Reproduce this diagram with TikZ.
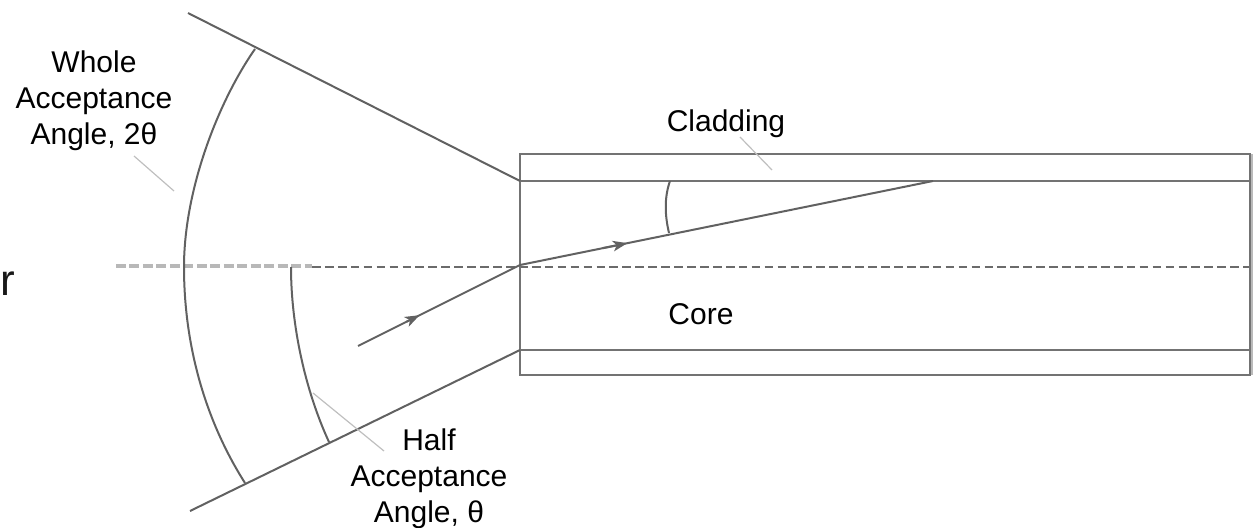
\documentclass[tikz,border=0pt]{standalone}
\usepackage{fontspec}
\setmainfont{Liberation Sans}
\usetikzlibrary{arrows.meta,calc}
\tikzset{
  x=0.75pt,y=-0.75pt,
  line/.style={draw=black!62,line width=1.5pt},
  boxline/.style={draw=black!55,line width=1.8pt},
  leader/.style={draw=black!25,line width=0.9pt},
  axisA/.style={draw=black!28,line width=2.4pt,dash pattern=on 7.5pt off 2.6pt},
  axisB/.style={draw=black!58,line width=1.2pt,dash pattern=on 6.5pt off 3.2pt},
  lab/.style={text=black,align=center,inner sep=0pt,font=\fontsize{22.5}{27}\selectfont},
  head/.style={-{Stealth[length=11pt,width=8pt,inset=3pt]}},
}
\begin{document}
\begin{tikzpicture}
\useasboundingbox (0,0) rectangle (1254,528);
% frame coordinates
\coordinate (tl) at (520,154);
\coordinate (tr) at (1250,154);
\coordinate (br) at (1250,375);
\coordinate (bl) at (520,375);
\coordinate (cl) at (520,181);
\coordinate (cr) at (1250,181);
\coordinate (dl) at (520,350);
\coordinate (dr) at (1250,350);
\coordinate (raya) at (358,346);
\coordinate (kink) at (520,265);
\coordinate (rayb) at (933,181);
\coordinate (uend) at (188,13);
\coordinate (lend) at (190,511);
\coordinate (axa) at (116,266);
\coordinate (axb) at (312,266);
\coordinate (axc) at (312,267);
\coordinate (axd) at (1250,267);
% right edge
\draw[draw=black!27,line width=2.4pt] (1251.5,154) -- (1251.5,375);
% axis
\draw[axisA] (axa) -- (axb);
\draw[axisB] (axc) -- (axd);
% fibre
\draw[boxline] (tl) -- (tr) -- (br) -- (bl) -- cycle;
\draw[boxline] (cl) -- (cr);
\draw[boxline] (dl) -- (dr);
% cone
\draw[line] (uend) -- (cl);
\draw[line] (lend) -- (dl);
% ray
\draw[line] (raya) -- (kink) -- (rayb);
\draw[line,head] ($(raya)!0.30!(kink)$) -- ($(raya)!0.38!(kink)$);
\draw[line,head] ($(kink)!0.2!(rayb)$) -- ($(kink)!0.26!(rayb)$);
% arcs
\draw[line] (255,49) .. controls (218,102) and (184,190) .. (184,267) .. controls (184,345) and (205,420) .. (245,483);
\draw[line] (291,267) .. controls (291,325) and (305,390) .. (329,442);
\draw[line] (670,181) .. controls (664,198) and (665,216) .. (669,233);
% labels
\node[lab] (whole) at (94,101) {Whole\\Acceptance\\Angle, 2θ};
\node[lab] (half) at (429,479) {Half\\Acceptance\\Angle, θ};
\node[lab] (clad) at (726,124) {Cladding};
\node[lab] (core) at (701,314) {Core};
\node[text=black!90,inner sep=0pt,anchor=base west,font=\fontsize{33}{38}\selectfont] (cut) at (0,295) {r};
% leaders
\coordinate (lwa) at (134,156);
\coordinate (lwb) at (174,191);
\coordinate (lha) at (313,393);
\coordinate (lhb) at (384,451);
\coordinate (lca) at (740,137);
\coordinate (lcb) at (772,170);
\draw[leader] (lwa) -- (lwb);
\draw[leader] (lha) -- (lhb);
\draw[leader] (lca) -- (lcb);
\end{tikzpicture}
\end{document}
